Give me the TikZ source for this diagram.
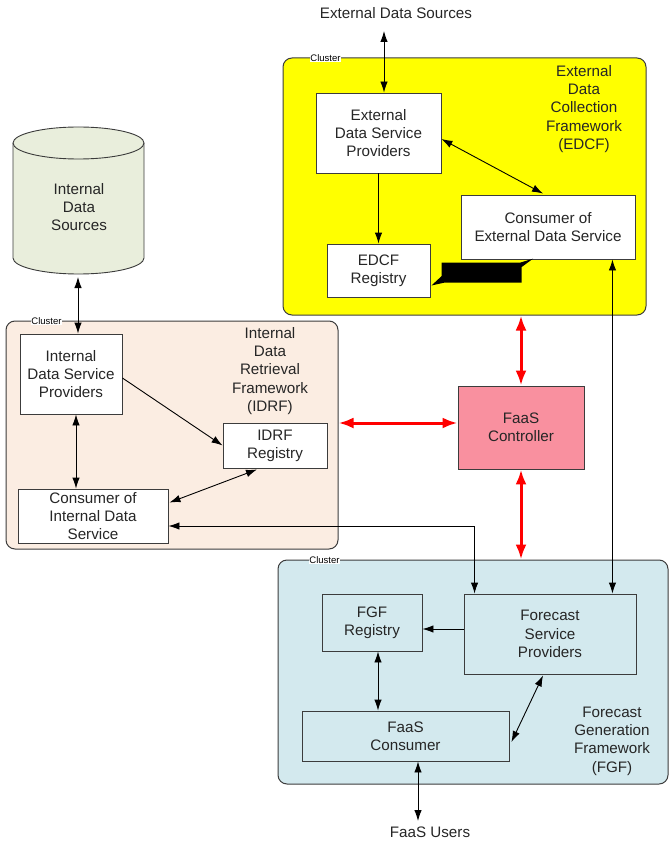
\documentclass[tikz,border=0pt]{standalone}
\usepackage{fontspec}
\setmainfont{Liberation Sans}
\usetikzlibrary{arrows.meta,calc}
\definecolor{edcfyellow}{HTML}{FFFF00}
\definecolor{idrfpeach}{HTML}{FBEDE2}
\definecolor{fgfblue}{HTML}{D3E9EE}
\definecolor{cylfill}{HTML}{E9EEDC}
\definecolor{ctrlpink}{HTML}{F9909F}
\definecolor{bordergray}{HTML}{3C3C3C}
\begin{document}
\begin{tikzpicture}[x=1pt,y=-1pt,
  txt/.style={font=\fontsize{15.2}{18.3}\selectfont, align=center, text=black!85},
  box/.style={txt, draw=bordergray, line width=0.9pt, fill=white, inner sep=0pt},
  cluster/.style={draw=bordergray, line width=1pt, rounded corners=9pt, inner sep=0pt},
  clab/.style={font=\fontsize{9.5}{11}\selectfont, fill=white, inner sep=0.6pt},
  arr/.style={line width=0.9pt, -{Latex[length=11pt,width=7.5pt]}},
  dbl/.style={line width=0.9pt, {Latex[length=11pt,width=7.5pt]}-{Latex[length=11pt,width=7.5pt]}},
  redarr/.style={draw=red, line width=3pt, {Latex[length=15pt,width=11pt]}-{Latex[length=15pt,width=11pt]}}
]
\useasboundingbox (0,0) rectangle (670,842);

% clusters
\node[cluster, fill=edcfyellow, minimum width=363pt, minimum height=257pt] (edcf) at (464.5,186.5) {};
\node[cluster, fill=idrfpeach, minimum width=332pt, minimum height=228pt] (idrf) at (172,435) {};
\node[cluster, fill=fgfblue, minimum width=390pt, minimum height=224pt] (fgf) at (473,672) {};
\node[clab] (edcfl) at (325.5,58) {Cluster};
\node[clab] (idrfl) at (46.5,321) {Cluster};
\node[clab] (fgfl) at (324.5,560) {Cluster};

% cluster titles
\node[txt] (edcft) at (584,109) {External\\Data\\Collection\\Framework\\(EDCF)};
\node[txt] (idrft) at (270,371) {Internal\\Data\\Retrieval\\Framework\\(IDRF)};
\node[txt] (fgft) at (612,741) {Forecast\\Generation\\Framework\\(FGF)};

% cylinder
\path[fill=cylfill, draw=bordergray, line width=0.9pt]
  (13,143) -- (13,258) arc[start angle=180, end angle=360, x radius=65.5pt, y radius=16pt]
  -- (144,143) arc[start angle=0, end angle=180, x radius=65.5pt, y radius=16pt] -- cycle;
\draw[bordergray, line width=0.9pt] (13,143) arc[start angle=180, end angle=360, x radius=65.5pt, y radius=16pt];
\node[txt] (ids) at (79,207) {Internal\\Data\\Sources};
\coordinate (idsbot) at (78,277);

% external texts
\node[txt] (eds) at (396,13) {External Data Sources};
\coordinate (edsin) at (384,31);
\node[txt] (users) at (430,832) {FaaS Users};
\coordinate (usersin) at (418,821);

% boxes
\node[box, minimum width=125pt, minimum height=80pt] (edsp) at (378.5,133) {External\\Data Service\\Providers};
\node[box, minimum width=103pt, minimum height=53pt] (edreg) at (378.5,270.5) {EDCF\\Registry};
\node[box, minimum width=174pt, minimum height=64pt] (ceds) at (548,227) {Consumer of\\External Data Service};
\node[box, fill=ctrlpink, minimum width=126pt, minimum height=83pt] (ctrl) at (521,427.5) {FaaS\\Controller};
\node[box, minimum width=102pt, minimum height=80pt] (idsp) at (71,374) {Internal\\Data Service\\Providers};
\node[box, minimum width=104pt, minimum height=45pt] (idreg) at (275,445.5) {IDRF\\Registry};
\node[box, minimum width=150pt, minimum height=54pt] (cids) at (93,516) {Consumer of\\Internal Data\\Service};
\node[box, fill=fgfblue, minimum width=100pt, minimum height=57pt] (fgreg) at (372,622.5) {FGF\\Registry};
\node[box, fill=fgfblue, minimum width=172pt, minimum height=80pt] (fsp) at (550,634) {Forecast\\Service\\Providers};
\node[box, fill=fgfblue, minimum width=207pt, minimum height=50pt] (faasc) at (405.5,736) {FaaS\\Consumer};

% EDCF connectors
\draw[dbl] (edsin) -- (edsin |- edsp.north);
\draw[arr] (edsp.south) -- (edreg.north);
\draw[dbl] ($(edsp.east)+(0,6)$) -- ($(ceds.north)+(-5,-1)$);
\fill[black] (441.7,262.7) -- (520,262.7) -- (533,258.7) -- (521.7,267) -- (521.7,282.7)
  -- (444,282.7) -- (431.5,285.5) -- (441.7,276) -- cycle;
\coordinate (cedsx) at ($(ceds.south east)+(-23,0)$);
\draw[dbl] (cedsx) -- (cedsx |- fsp.north);

% red connectors
\coordinate (ctrlw) at ($(ctrl.west)+(0,-4.5)$);
\draw[redarr] (ctrl.north) -- (ctrl.north |- edcf.south);
\draw[redarr] (ctrlw) -- (ctrlw -| idrf.east);
\draw[redarr] (ctrl.south) -- (ctrl.south |- fgf.north);

% IDRF connectors
\draw[dbl] (idsbot) -- (idsbot |- idsp.north);
\draw[arr] ($(idsp.east)+(0,4)$) -- (idreg.west);
\coordinate (idspx) at ($(idsp.south)+(5,0)$);
\draw[dbl] (idspx) -- (idspx |- cids.north);
\draw[dbl] ($(cids.north east)+(1,14)$) -- ($(idreg.south)+(-18,1)$);
\draw[dbl] ($(fsp.north west)+(11,0)$) |- ($(cids.east)+(0,10)$);

% FGF connectors
\coordinate (fspw) at ($(fsp.west)+(0,-5)$);
\draw[arr] (fspw) -- (fspw -| fgreg.east);
\coordinate (fgregx) at ($(fgreg.south)+(6,0)$);
\draw[dbl] (fgregx) -- (fgregx |- faasc.north);
\draw[dbl] ($(fsp.south)+(-7,1)$) -- ($(faasc.east)+(2,6)$);
\coordinate (faascx) at ($(faasc.south)+(12.5,0)$);
\draw[dbl] (faascx) -- (faascx |- usersin);
\end{tikzpicture}
\end{document}
